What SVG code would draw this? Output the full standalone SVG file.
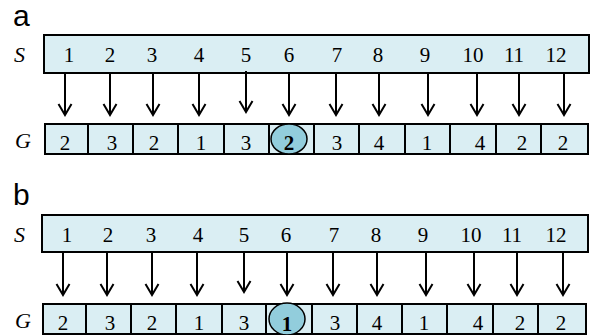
<svg xmlns="http://www.w3.org/2000/svg" width="592" height="335" viewBox="0 0 592 335">
<style>
.box{fill:#daeef3;stroke:#000;stroke-width:2}
.div{stroke:#000;stroke-width:2}
.num{font-family:"Liberation Serif",serif;font-size:21px;text-anchor:middle;fill:#000}
.bold{font-weight:bold}
.var{font-family:"Liberation Serif",serif;font-style:italic;font-size:22px;fill:#000}
.lab{font-family:"Liberation Sans",sans-serif;font-size:30px;fill:#000}
.arr{fill:none;stroke:#000;stroke-width:2}
.ell{fill:#92cddc;stroke:#000;stroke-width:1.5}
</style>
<g id="panel-a">
<text class="lab" x="13" y="26">a</text>
<g id="a-S">
<text class="var" x="14" y="62">S</text>
<rect class="box" x="44" y="35" width="545" height="38"/>
<text class="num" x="69" y="62">1</text><text class="num" x="110" y="62">2</text><text class="num" x="152" y="62">3</text><text class="num" x="199" y="62">4</text><text class="num" x="246" y="62">5</text><text class="num" x="289" y="62">6</text><text class="num" x="337" y="62">7</text><text class="num" x="378" y="62">8</text><text class="num" x="425" y="62">9</text><text class="num" x="473" y="62">10</text><text class="num" x="514" y="62">11</text><text class="num" x="556" y="62">12</text>
</g>
<g id="a-G">
<text class="var" x="15" y="148">G</text>
<rect class="box" x="45" y="124" width="543" height="30"/>
<path class="div" d="M88 124V154M133 124V154M178 124V154M224 124V154M269 124V154M314 124V154M359 124V154M405 124V154M450 124V154M496 124V154M541 124V154"/>
<text class="num" x="65" y="150">2</text><text class="num" x="112" y="150">3</text><text class="num" x="154" y="150">2</text><text class="num" x="201" y="150">1</text><text class="num" x="246" y="150">3</text>
<ellipse class="ell" cx="289" cy="139" rx="18" ry="15"/>
<text class="num bold" x="289" y="150">2</text>
<text class="num" x="337" y="150">3</text><text class="num" x="379" y="150">4</text><text class="num" x="427" y="150">1</text><text class="num" x="480" y="150">4</text><text class="num" x="522" y="150">2</text><text class="num" x="563" y="150">2</text>
</g>
</g>
<g id="panel-b">
<text class="lab" x="13" y="205">b</text>
<g id="b-S">
<text class="var" x="14" y="242">S</text>
<rect class="box" x="42" y="215" width="546" height="37"/>
<text class="num" x="67" y="242">1</text><text class="num" x="108" y="242">2</text><text class="num" x="151" y="242">3</text><text class="num" x="198" y="242">4</text><text class="num" x="244" y="242">5</text><text class="num" x="286" y="242">6</text><text class="num" x="334" y="242">7</text><text class="num" x="376" y="242">8</text><text class="num" x="423" y="242">9</text><text class="num" x="471" y="242">10</text><text class="num" x="512" y="242">11</text><text class="num" x="556" y="242">12</text>
</g>
<g id="b-G">
<text class="var" x="15" y="328">G</text>
<rect class="box" x="43" y="304" width="543" height="30"/>
<path class="div" d="M86 304V334M131 304V334M176 304V334M222 304V334M266 304V334M312 304V334M357 304V334M402 304V334M447 304V334M493 304V334M538 304V334"/>
<text class="num" x="63" y="330">2</text><text class="num" x="110" y="330">3</text><text class="num" x="152" y="330">2</text><text class="num" x="199" y="330">1</text><text class="num" x="244" y="330">3</text>
<ellipse class="ell" cx="287" cy="319" rx="18" ry="16"/>
<text class="num bold" x="287" y="331">1</text>
<text class="num" x="335" y="330">3</text><text class="num" x="377" y="330">4</text><text class="num" x="424" y="330">1</text><text class="num" x="478" y="330">4</text><text class="num" x="520" y="330">2</text><text class="num" x="561" y="330">2</text>
</g>
</g>
<g id="connectors">
<path class="arr" d="M65 73V115M58.5 104L65 115L71.5 104"/>
<path class="arr" d="M110 73V115M103.5 104L110 115L116.5 104"/>
<path class="arr" d="M153 73V115M146.5 104L153 115L159.5 104"/>
<path class="arr" d="M199 73V115M192.5 104L199 115L205.5 104"/>
<path class="arr" d="M246 71V112M239.5 101L246 112L252.5 101"/>
<path class="arr" d="M289 73V115M282.5 104L289 115L295.5 104"/>
<path class="arr" d="M336 73V115M329.5 104L336 115L342.5 104"/>
<path class="arr" d="M379 73V115M372.5 104L379 115L385.5 104"/>
<path class="arr" d="M428 73V115M421.5 104L428 115L434.5 104"/>
<path class="arr" d="M477 73V115M470.5 104L477 115L483.5 104"/>
<path class="arr" d="M519 73V115M512.5 104L519 115L525.5 104"/>
<path class="arr" d="M564 73V115M557.5 104L564 115L570.5 104"/>
<path class="arr" d="M63 252V295M56.5 284L63 295L69.5 284"/>
<path class="arr" d="M107 252V295M100.5 284L107 295L113.5 284"/>
<path class="arr" d="M152 252V295M145.5 284L152 295L158.5 284"/>
<path class="arr" d="M197 252V295M190.5 284L197 295L203.5 284"/>
<path class="arr" d="M244 251V292M237.5 281L244 292L250.5 281"/>
<path class="arr" d="M287 252V295M280.5 284L287 295L293.5 284"/>
<path class="arr" d="M333 252V295M326.5 284L333 295L339.5 284"/>
<path class="arr" d="M377 252V295M370.5 284L377 295L383.5 284"/>
<path class="arr" d="M426 252V295M419.5 284L426 295L432.5 284"/>
<path class="arr" d="M474 252V295M467.5 284L474 295L480.5 284"/>
<path class="arr" d="M517 252V295M510.5 284L517 295L523.5 284"/>
<path class="arr" d="M563 252V295M556.5 284L563 295L569.5 284"/>
</g>
</svg>
